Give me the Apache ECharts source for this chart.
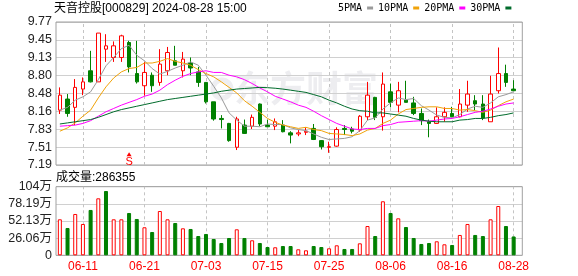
<!DOCTYPE html>
<html><head><meta charset="utf-8">
<script src="https://cdn.jsdelivr.net/npm/echarts/dist/echarts.min.js"></script>
<style>html,body{margin:0;padding:0;background:#fff}#c{width:578px;height:276px}</style>
</head><body><div id="c"></div>
<script>
const dates = ['06-05','06-06','06-07','06-11','06-12','06-13','06-14','06-17','06-18','06-19',
'06-20','06-21','06-24','06-25','06-26','06-27','06-28','07-01','07-02','07-03',
'07-04','07-05','07-08','07-09','07-10','07-11','07-12','07-15','07-16','07-17',
'07-18','07-19','07-22','07-23','07-24','07-25','07-26','07-29','07-30','07-31',
'08-01','08-02','08-05','08-06','08-07','08-08','08-09','08-12','08-13','08-14',
'08-15','08-16','08-19','08-20','08-21','08-22','08-23','08-26','08-27','08-28'];
const opens = [8.18,8.38,8.23,8.56,8.89,8.69,9.28,9.13,9.13,9.40,
8.84,8.62,8.81,8.68,8.89,9.07,8.89,9.03,8.87,8.68,
8.33,8.03,7.94,7.51,7.91,7.89,8.29,7.91,7.89,7.91,
7.77,7.75,7.78,7.85,7.63,7.51,7.53,7.85,7.84,7.82,
8.06,8.41,8.06,8.51,8.27,8.36,8.31,8.12,7.97,7.94,
8.06,8.12,8.06,8.27,8.35,8.29,7.97,8.53,8.84,8.56];
const closes = [8.45,8.12,8.59,8.69,8.69,9.57,9.34,9.34,9.52,8.96,
8.69,8.86,8.62,9.01,9.22,8.99,9.10,8.94,8.68,8.33,
8.02,8.01,7.63,8.02,7.76,8.05,7.93,7.88,7.97,7.79,
7.73,7.77,7.80,7.65,7.52,7.52,7.83,7.83,7.80,8.07,
8.45,8.05,8.65,8.32,8.53,8.32,8.12,7.99,7.94,8.06,
8.14,8.06,8.29,8.47,8.29,8.04,8.47,8.84,8.68,8.53];
const lows = [8.11,8.06,7.91,8.45,8.68,8.69,9.05,9.05,9.05,8.86,
8.66,8.44,8.51,8.62,8.81,8.99,8.77,8.81,8.60,8.30,
7.99,7.85,7.61,7.46,7.75,7.84,7.89,7.88,7.82,7.78,
7.58,7.71,7.73,7.64,7.47,7.41,7.52,7.73,7.76,7.79,
8.00,8.00,7.81,8.23,8.14,8.32,8.09,7.91,7.69,7.93,
7.97,8.05,8.05,8.15,8.18,8.00,7.97,8.48,8.60,8.53];
const highs = [8.59,8.47,8.74,8.77,9.25,9.57,9.55,9.42,9.54,9.43,
9.43,9.05,8.86,9.28,9.32,9.34,9.23,9.13,8.96,8.68,
8.33,8.09,7.95,8.06,8.01,8.10,8.30,8.01,8.03,8.00,
7.80,7.82,7.87,7.93,7.64,7.61,7.87,7.91,7.88,8.09,
8.69,8.42,8.86,8.66,8.69,8.71,8.42,8.21,8.01,8.23,
8.23,8.24,8.56,8.71,8.45,8.45,8.80,9.31,9.00,8.72];
// volume in 万手
const volumes = [54.7,41.5,62.8,47.6,68.9,86.6,97.7,54.7,54.7,64.3,
55.2,42.6,35.4,67.3,54.7,49.1,41.0,40.0,29.3,32.4,
24.8,18.7,26.3,39.5,26.3,22.8,18.7,12.6,12.2,14.1,
14.1,9.1,7.6,14.1,12.6,10.6,15.2,9.6,9.6,18.2,
44.5,29.3,82.1,64.3,56.2,43.0,26.3,17.2,18.7,21.3,
16.7,15.7,30.9,47.6,30.9,29.3,54.7,74.9,44.5,28.6355];
const ma5 = [8.18,8.23,8.36,8.42,8.51,8.73,8.98,9.13,9.29,9.35,
9.17,9.07,8.93,8.83,8.88,8.94,8.99,9.05,8.99,8.81,
8.61,8.40,8.13,8.00,7.89,7.89,7.88,7.93,7.92,7.92,
7.86,7.83,7.81,7.75,7.69,7.65,7.66,7.67,7.70,7.81,
8.00,8.04,8.20,8.31,8.40,8.37,8.39,8.26,8.18,8.09,
8.05,8.04,8.10,8.20,8.25,8.23,8.31,8.42,8.46,8.51];
const ma10 = [7.80,7.86,7.95,8.07,8.18,8.40,8.60,8.76,8.87,8.93,
8.95,9.03,9.03,9.06,9.11,9.06,9.03,8.99,8.91,8.84,
8.78,8.69,8.59,8.49,8.35,8.25,8.14,8.03,7.96,7.91,
7.88,7.85,7.87,7.83,7.81,7.76,7.75,7.74,7.72,7.75,
7.82,7.85,7.94,8.00,8.11,8.19,8.21,8.23,8.24,8.24,
8.21,8.21,8.18,8.19,8.17,8.14,8.18,8.26,8.33,8.38];
const ma20 = [7.89,7.90,7.91,7.94,7.99,8.07,8.15,8.21,8.27,8.32,
8.37,8.43,8.47,8.54,8.64,8.72,8.79,8.84,8.87,8.89,
8.86,8.86,8.81,8.78,8.73,8.66,8.58,8.51,8.43,8.38,
8.33,8.27,8.23,8.16,8.08,8.01,7.94,7.89,7.84,7.83,
7.85,7.85,7.90,7.92,7.96,7.97,7.98,7.99,7.98,8.00,
8.02,8.03,8.06,8.10,8.14,8.16,8.20,8.25,8.29,8.31];
const ma30 = [7.93,7.95,7.97,7.99,8.01,8.05,8.10,8.15,8.19,8.22,
8.25,8.28,8.31,8.34,8.37,8.39,8.41,8.43,8.45,8.47,
8.49,8.52,8.54,8.56,8.57,8.58,8.59,8.585,8.575,8.56,
8.54,8.52,8.50,8.46,8.42,8.36,8.31,8.25,8.20,8.17,
8.16,8.13,8.13,8.11,8.09,8.07,8.03,8.00,7.98,7.97,
7.97,7.97,8.00,8.01,8.03,8.03,8.05,8.08,8.10,8.13];
const maNames = ['5PMA','10PMA','20PMA','30PMA'];
const priceTicks = ['7.19','7.51','7.83','8.16','8.48','8.80','9.13','9.45','9.77'];
const volTicks = ['0','26.06万','52.13万','78.19万','104万'];
const titleText = '天音控股[000829] 2024-08-28 15:00';
const signalIndex = 9, signalText = 'S';

const priceMin = 7.19, priceMax = 9.77, priceStep = (priceMax - priceMin) / 8;
const volMax = 104.25, volStep = volMax / 4;
const RED = '#ff0000', GREEN = '#008000';
const FONT = "'Liberation Sans','Noto Sans CJK SC',sans-serif";
const isLabel = i => (i - 3) % 8 === 0;
const labelDates = dates.filter((d, i) => isLabel(i));

const volUp = volumes.map((v, i) => {
  const prev = i > 0 ? closes[i - 1] : opens[i];
  if (closes[i] > prev) return true;
  if (closes[i] < prev) return false;
  return closes[i] >= opens[i];
});

const dash = {
  symbol: ['none', 'none'], silent: true, animation: false, z: 1,
  label: {show: false},
  lineStyle: {type: [3, 3], color: '#c4c4c4', width: 1},
  emphasis: {disabled: true},
  data: labelDates.map(d => ({xAxis: d}))
};

const L = 56, W_DATA = 461.5, W_FRAME = 466.3;
const chart = echarts.init(document.getElementById('c'), null, {renderer: 'canvas'});
chart.setOption({
  animation: false,
  backgroundColor: '#fff',
  title: [
    {text: titleText, left: 54, top: 3, padding: 0,
     textStyle: {fontSize: 12, fontWeight: 'normal', color: '#000', fontFamily: FONT}},
    {text: '成交量:' + Math.round(volumes[volumes.length - 1] * 10000), left: 56, top: 172, padding: 0,
     textStyle: {fontSize: 12, fontWeight: 'normal', color: '#000', fontFamily: FONT}}
  ],
  legend: {
    data: maNames, left: 338, top: 3, padding: 0, itemGap: 5, itemWidth: 6, itemHeight: 3,
    align: 'right', icon: 'rect', selectedMode: false,
    textStyle: {fontSize: 10, fontFamily: "'DejaVu Sans Mono',monospace", color: '#000'}
  },
  graphic: [
    {type: 'circle', z: 0, silent: true, shape: {cx: 222, cy: 89, r: 9},
     style: {fill: 'none', stroke: 'rgba(20,20,60,0.07)', lineWidth: 5}},
    {type: 'text', z: 0, silent: true, left: 234, top: 70,
     style: {text: '东方财富', font: "bold 36px 'Noto Sans CJK SC'", fill: 'rgba(20,20,60,0.075)'}}
  ],
  grid: [
    {left: L, top: 22, width: W_DATA, height: 143},
    {left: L, top: 22, width: W_FRAME, height: 143, show: true, z: 1,
     backgroundColor: 'transparent', borderColor: '#a0a0a0', borderWidth: 1},
    {left: L, top: 186.7, width: W_DATA, height: 68.6},
    {left: L, top: 186.7, width: W_FRAME, height: 68.6, show: true, z: 1,
     backgroundColor: 'transparent', borderColor: '#a0a0a0', borderWidth: 1}
  ],
  xAxis: [
    {type: 'category', gridIndex: 0, data: dates, boundaryGap: true,
     axisLine: {show: false}, axisTick: {show: false}, axisLabel: {show: false}, splitLine: {show: false}},
    {type: 'value', gridIndex: 1, min: 0, max: 1, show: false},
    {type: 'category', gridIndex: 2, data: dates, boundaryGap: true,
     axisLine: {show: false}, axisTick: {show: false}, splitLine: {show: false},
     axisLabel: {interval: (i) => isLabel(i), color: RED, fontSize: 12, margin: 5, fontFamily: FONT}},
    {type: 'value', gridIndex: 3, min: 0, max: 1, show: false}
  ],
  yAxis: [
    {type: 'value', gridIndex: 0, min: priceMin, max: priceMax, show: false},
    {type: 'value', gridIndex: 1, min: priceMin, max: priceMax, interval: priceStep,
     axisLine: {show: false}, axisTick: {show: false},
     splitLine: {lineStyle: {color: '#d0d0d0', width: 1}},
     axisLabel: {margin: 4, color: '#222', fontSize: 12.5, fontFamily: FONT,
       formatter: v => priceTicks[Math.round((v - priceMin) / priceStep)] || ''}},
    {type: 'value', gridIndex: 2, min: 0, max: volMax, show: false},
    {type: 'value', gridIndex: 3, min: 0, max: volMax, interval: volStep,
     axisLine: {show: false}, axisTick: {show: false},
     splitLine: {lineStyle: {color: '#d0d0d0', width: 1}},
     axisLabel: {margin: 4, color: '#222', fontSize: 12.5, fontFamily: FONT,
       formatter: v => volTicks[Math.round(v / volStep)] || ''}}
  ],
  series: [
    {type: 'candlestick', name: 'K', xAxisIndex: 0, yAxisIndex: 0, barWidth: 4, z: 2,
     data: dates.map((d, i) => [opens[i], closes[i], lows[i], highs[i]]),
     itemStyle: {color: '#ffffff', color0: GREEN, borderColor: RED, borderColor0: GREEN, borderWidth: 1},
     markLine: dash,
     markPoint: {
       silent: true, animation: false,
       data: [{coord: [dates[signalIndex], 7.385], symbol: 'triangle', symbolSize: [5, 4],
         itemStyle: {color: RED},
         label: {show: true, position: 'bottom', distance: 0, formatter: signalText,
           color: RED, fontSize: 11, fontFamily: FONT}}]
     }},
    ...[ma5, ma10, ma20, ma30].map((arr, k) => ({
      type: 'line', name: maNames[k], xAxisIndex: 0, yAxisIndex: 0, data: arr,
      color: ['#9a9a9a', '#f0a30a', '#ff00ff', '#006b2b'][k],
      symbol: 'none', smooth: false, lineStyle: {width: 1}, z: 3
    })),
    {type: 'bar', name: 'VOL', xAxisIndex: 2, yAxisIndex: 2, barWidth: 4, z: 2,
     data: volumes.map((v, i) => ({value: v, itemStyle: volUp[i]
       ? {color: '#ffffff', borderColor: RED, borderWidth: 1}
       : {color: GREEN, borderColor: GREEN, borderWidth: 1}})),
     markLine: dash}
  ]
});
</script></body></html>
